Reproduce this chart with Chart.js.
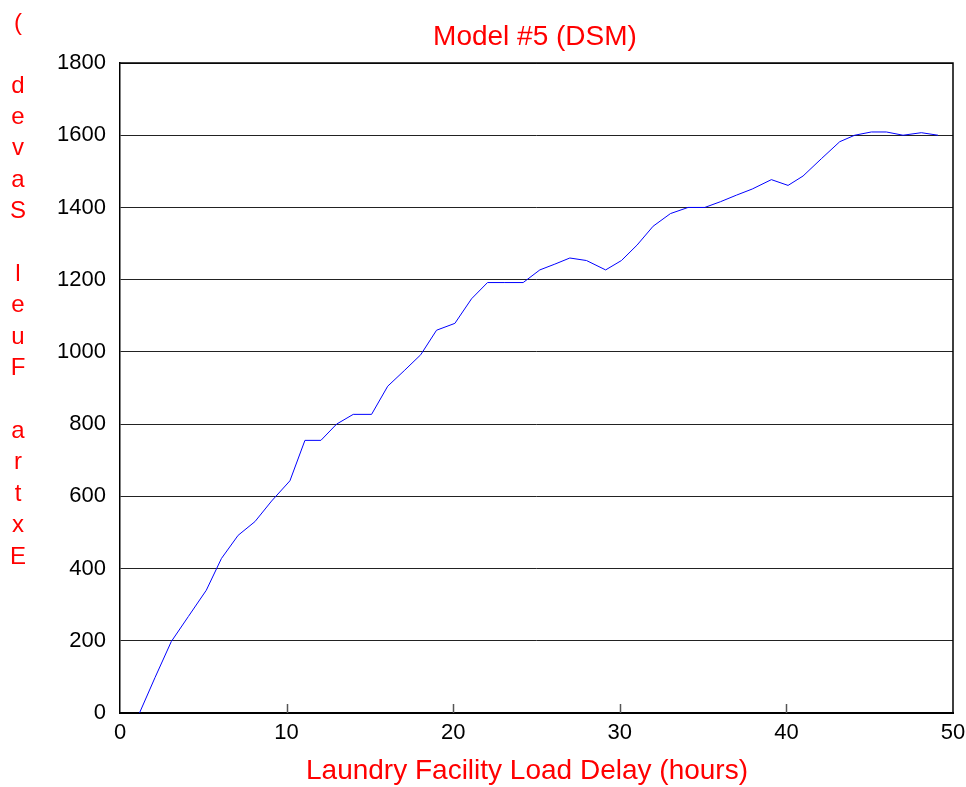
<!DOCTYPE html>
<html>
<head>
<meta charset="utf-8">
<style>
  html, body { margin: 0; padding: 0; background: #fff; }
  canvas { display: block; }
</style>
<script src="https://cdn.jsdelivr.net/npm/chart.js@4.4.0/dist/chart.umd.min.js"></script>
</head>
<body>
<canvas id="chart" width="966" height="787"></canvas>
<script>
// values
const delayHours = [1.17, 2.1, 3.08, 4.1, 5.18, 6.09, 7.09, 8.1, 9.1, 10.2,
  11.1, 12.06, 13.0, 14.0, 15.1, 16.07, 17.06, 18.05, 19.0, 20.1,
  21.1, 22.06, 23.1, 24.2, 25.2, 26.1, 27.0, 28.0, 29.15, 30.1,
  31.04, 32.0, 33.04, 34.1, 35.1, 36.05, 37.0, 37.95, 39.1, 40.1,
  41.0, 42.1, 43.2, 44.1, 45.1, 46.0, 47.0, 48.1, 49.1];
const fuelSaved = [0, 98, 198, 267, 340, 428, 492, 530, 587, 643,
  755, 755, 800, 827, 827, 905, 948, 992, 1060, 1079,
  1147, 1192, 1192, 1192, 1227, 1243, 1260, 1253, 1227, 1253,
  1296, 1348, 1383, 1400, 1400, 1416, 1434, 1451, 1477, 1461,
  1487, 1535, 1582, 1600, 1609, 1609, 1600, 1607, 1600];

const xTickValues = [0, 10, 20, 30, 40, 50];
const yTickValues = [0, 200, 400, 600, 800, 1000, 1200, 1400, 1600, 1800];

const titleText = "Model #5 (DSM)";
const xLabelText = "Laundry Facility Load Delay (hours)";
const yLabelText = "Extra Fuel Saved (";

const fontFamily = '"Liberation Sans", Arial, Helvetica, sans-serif';

// frame, inward ticks and the red texts
const decorPlugin = {
  id: 'decor',
  afterDraw(chart) {
    const ctx = chart.ctx;
    const a = chart.chartArea;
    ctx.save();

    // top and right border
    ctx.strokeStyle = '#000';
    ctx.lineWidth = 1.5;
    ctx.beginPath();
    ctx.moveTo(a.left, a.top);
    ctx.lineTo(a.right, a.top);
    ctx.lineTo(a.right, a.bottom);
    ctx.stroke();

    // x ticks pointing into the plot
    const xs = chart.scales.x;
    ctx.strokeStyle = '#555';
    ctx.lineWidth = 1.5;
    xs.ticks.forEach(t => {
      if (t.value <= xs.min || t.value >= xs.max) return;
      const px = Math.round(xs.getPixelForValue(t.value)) + 0.5;
      ctx.beginPath();
      ctx.moveTo(px, a.bottom);
      ctx.lineTo(px, a.bottom - 9);
      ctx.stroke();
    });

    ctx.fillStyle = '#ff0000';

    // title
    ctx.font = '28px ' + fontFamily;
    ctx.textAlign = 'center';
    ctx.textBaseline = 'alphabetic';
    ctx.fillText(titleText, 535, 45);

    // x label
    ctx.font = '28px ' + fontFamily;
    ctx.fillText(xLabelText, 527, 779);

    // y label, one character per line, read from the bottom up
    ctx.font = '24px ' + fontFamily;
    ctx.textBaseline = 'middle';
    for (let i = 0; i < yLabelText.length; i++) {
      ctx.fillText(yLabelText[i], 18, 557 - i * 31.4);
    }

    ctx.restore();
  }
};

const ctx = document.getElementById('chart');

new Chart(ctx, {
  type: 'line',
  data: {
    datasets: [{
      data: delayHours.map((h, i) => ({ x: h, y: fuelSaved[i] })),
      borderColor: '#0000ff',
      borderWidth: 1,
      pointRadius: 0,
      tension: 0,
      fill: false
    }]
  },
  options: {
    responsive: false,
    animation: false,
    devicePixelRatio: 1,
    layout: { padding: { top: 63, right: 13, left: 0, bottom: 0 } },
    plugins: {
      legend: { display: false },
      title: { display: false },
      tooltip: { enabled: false }
    },
    scales: {
      x: {
        type: 'linear',
        min: 0,
        max: 50,
        afterBuildTicks: s => { s.ticks = xTickValues.map(v => ({ value: v })); },
        afterFit: s => { s.height = 74; s.paddingLeft = 0; s.paddingRight = 0; },
        grid: { display: false, drawTicks: false },
        border: { color: '#000', width: 2 },
        ticks: {
          color: '#000',
          font: { family: fontFamily, size: 22 },
          padding: 7,
          maxRotation: 0,
          autoSkip: false,
          callback: v => String(v)
        }
      },
      y: {
        min: 0,
        max: 1800,
        afterBuildTicks: s => { s.ticks = yTickValues.map(v => ({ value: v })); },
        afterFit: s => { s.width = 120; },
        grid: { color: '#222', lineWidth: 1, drawTicks: false },
        border: { color: '#000', width: 1.5 },
        ticks: {
          color: '#000',
          font: { family: fontFamily, size: 22 },
          padding: 14,
          autoSkip: false,
          callback: v => String(v)
        }
      }
    }
  },
  plugins: [decorPlugin]
});
</script>
</body>
</html>
